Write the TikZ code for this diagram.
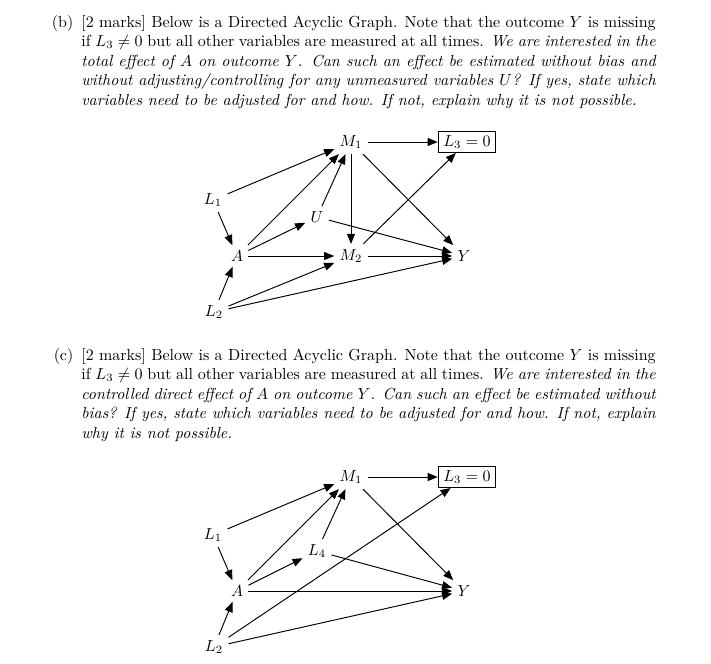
\documentclass[tikz,border=0pt]{standalone}
\usetikzlibrary{arrows.meta}

\begin{document}
\begin{tikzpicture}[
  x=0.625pt, y=-0.625pt,
  font=\fontsize{10}{12.2}\selectfont,
  question/.style={text width=359pt, align=justify, anchor=base west, inner sep=0pt},
  var/.style={inner sep=3.2pt},
  sel/.style={draw, inner xsep=3.2pt, inner ysep=2.4pt, line width=0.6pt},
  flow/.style={-{Triangle[length=6.3pt, width=5pt]}, line width=0.6pt},
]
\useasboundingbox (0,0) rectangle (711,663);

% part (b)
\node[question] (qb) at (81,27) {\leavevmode\llap{(b)\hspace{5pt}}[2 marks] Below is a Directed Acyclic Graph. Note that the outcome $Y$ is missing\linebreak
if $L_3 \neq 0$ but all other variables are measured at all times. \itshape We are interested in the\linebreak
total effect of $A$ on outcome $Y$. Can such an effect be estimated without bias and\linebreak
without adjusting/controlling for any unmeasured variables $U$? If yes, state which\linebreak
variables need to be adjusted for and how. If not, explain why it is not possible.};

\node[var] (M1b) at (351,142) {$M_1$};
\node[sel] (L3b) at (467,142) {$L_3 = 0$};
\node[var] (L1b) at (213,200) {$L_1$};
\node[var] (Ub)  at (317,217) {$U$};
\node[var] (Ab)  at (237,256) {$A$};
\node[var] (M2b) at (351,256) {$M_2$};
\node[var] (Yb)  at (464,256) {$Y$};
\node[var] (L2b) at (214,312) {$L_2$};

\foreach \a/\b in {L1b/M1b, L1b/Ab, Ab/M1b, Ab/Ub, Ub/M1b, Ab/M2b, M1b/L3b,
                   M1b/M2b, M1b/Yb, Ub/Yb, M2b/L3b, M2b/Yb, L2b/Ab, L2b/M2b, L2b/Yb}
  \draw[flow] (\a) -- (\b);

% part (c)
\node[question] (qc) at (81,360) {\leavevmode\llap{(c)\hspace{5pt}}[2 marks] Below is a Directed Acyclic Graph. Note that the outcome $Y$ is missing\linebreak
if $L_3 \neq 0$ but all other variables are measured at all times. \itshape We are interested in the\linebreak
controlled direct effect of $A$ on outcome $Y$. Can such an effect be estimated without\linebreak
bias? If yes, state which variables need to be adjusted for and how. If not, explain\linebreak
why it is not possible.};

\node[var] (M1c) at (351,477) {$M_1$};
\node[sel] (L3c) at (467,477) {$L_3 = 0$};
\node[var] (L1c) at (213,535) {$L_1$};
\node[var] (L4c) at (317,551) {$L_4$};
\node[var] (Ac)  at (237,591) {$A$};
\node[var] (Yc)  at (464,591) {$Y$};
\node[var] (L2c) at (214,647) {$L_2$};

\foreach \a/\b in {L1c/M1c, L1c/Ac, Ac/M1c, Ac/L4c, L4c/M1c, Ac/Yc, M1c/L3c,
                   M1c/Yc, L4c/Yc, L2c/Ac, L2c/L3c, L2c/Yc}
  \draw[flow] (\a) -- (\b);

\end{tikzpicture}
\end{document}
